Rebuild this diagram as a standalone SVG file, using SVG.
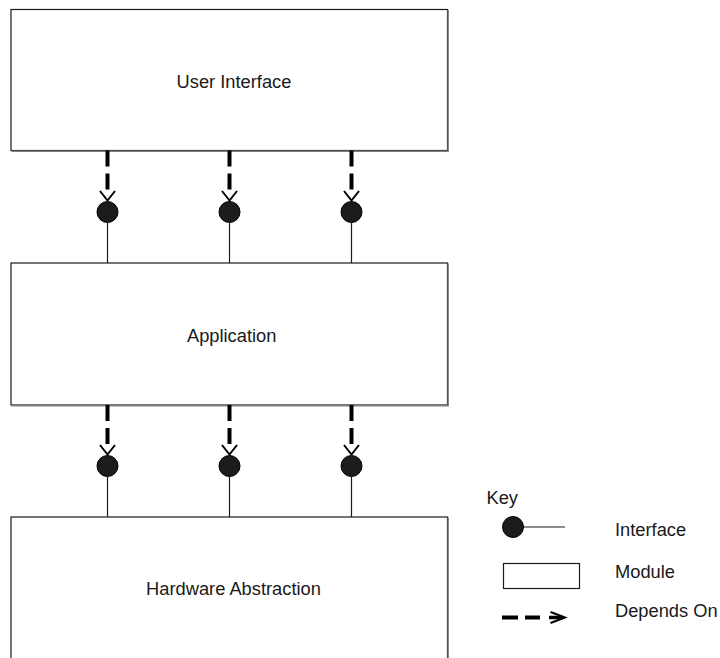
<svg xmlns="http://www.w3.org/2000/svg" width="720" height="658" viewBox="0 0 720 658">
<style>
  .box { fill: #ffffff; stroke: #1a1a1a; stroke-width: 1.2; }
  .shadow { fill: none; stroke: #808080; stroke-width: 1.5; }
  .lbl { font-family: "Liberation Sans", Arial, sans-serif; font-size: 18.3px; fill: #1a1a1a; }
  .title { text-anchor: middle; }
  .dep { stroke: #000; stroke-width: 4; stroke-dasharray: 16 7; fill: none; }
  .head { stroke: #000; stroke-width: 2; fill: none; stroke-linejoin: miter; }
  .iface { fill: #1c1c1c; stroke: #000; stroke-width: 1; }
  .stem { stroke: #1a1a1a; stroke-width: 1.2; }
</style>
<rect width="720" height="658" fill="#ffffff"/>

<g id="user-interface">
  <rect class="box" x="11" y="9.5" width="436.5" height="141"/>
  <path class="shadow" d="M448.2 10 V151.2 H11.5"/>
  <text class="lbl title" x="234" y="88">User Interface</text>
</g>

<g id="application">
  <rect class="box" x="11" y="263" width="436.5" height="142"/>
  <path class="shadow" d="M448.2 263.5 V405.7 H11.5"/>
  <text class="lbl title" x="231.7" y="341.5">Application</text>
</g>

<g id="hardware-abstraction">
  <rect class="box" x="11" y="517" width="436.5" height="150"/>
  <path class="shadow" d="M448.2 517.5 V668"/>
  <text class="lbl title" x="233.5" y="595">Hardware Abstraction</text>
</g>

<g id="interfaces">
  <circle class="iface" cx="107.5" cy="212" r="10.5"/>
  <circle class="iface" cx="229.5" cy="212" r="10.5"/>
  <circle class="iface" cx="351.5" cy="212" r="10.5"/>
  <circle class="iface" cx="107.5" cy="466" r="10.5"/>
  <circle class="iface" cx="229.5" cy="466" r="10.5"/>
  <circle class="iface" cx="351.5" cy="466" r="10.5"/>
</g>

<g id="connectors">
  <line class="stem" x1="107.5" y1="222.5" x2="107.5" y2="263"/>
  <line class="stem" x1="229.5" y1="222.5" x2="229.5" y2="263"/>
  <line class="stem" x1="351.5" y1="222.5" x2="351.5" y2="263"/>
  <line class="stem" x1="107.5" y1="476.5" x2="107.5" y2="517"/>
  <line class="stem" x1="229.5" y1="476.5" x2="229.5" y2="517"/>
  <line class="stem" x1="351.5" y1="476.5" x2="351.5" y2="517"/>

  <line class="dep" x1="107.5" y1="150.5" x2="107.5" y2="196"/>
  <line class="dep" x1="229.5" y1="150.5" x2="229.5" y2="196"/>
  <line class="dep" x1="351.5" y1="150.5" x2="351.5" y2="196"/>
  <path class="head" d="M100 191 L107.5 200.5 L115 191"/>
  <path class="head" d="M222 191 L229.5 200.5 L237 191"/>
  <path class="head" d="M344 191 L351.5 200.5 L359 191"/>

  <line class="dep" x1="107.5" y1="405" x2="107.5" y2="450"/>
  <line class="dep" x1="229.5" y1="405" x2="229.5" y2="450"/>
  <line class="dep" x1="351.5" y1="405" x2="351.5" y2="450"/>
  <path class="head" d="M100 445 L107.5 454.5 L115 445"/>
  <path class="head" d="M222 445 L229.5 454.5 L237 445"/>
  <path class="head" d="M344 445 L351.5 454.5 L359 445"/>
</g>

<g id="key">
  <text class="lbl" x="486.5" y="503.5">Key</text>
  <line class="stem" x1="513" y1="527" x2="565" y2="527"/>
  <circle class="iface" cx="513" cy="527" r="10.5"/>
  <text class="lbl" x="615" y="536">Interface</text>
  <rect class="box" x="503.5" y="563.5" width="76" height="25"/>
  <text class="lbl" x="615" y="578">Module</text>
  <line class="dep" x1="502" y1="617.5" x2="540" y2="617.5" stroke-dasharray="13.5 11"/>
  <line x1="549" y1="617.5" x2="563" y2="617.5" stroke="#000" stroke-width="3.5"/>
  <path class="head" d="M550.5 612 L565 617.5 L550.5 623" stroke-width="2.8"/>
  <text class="lbl" x="615" y="617">Depends On</text>
</g>
</svg>
